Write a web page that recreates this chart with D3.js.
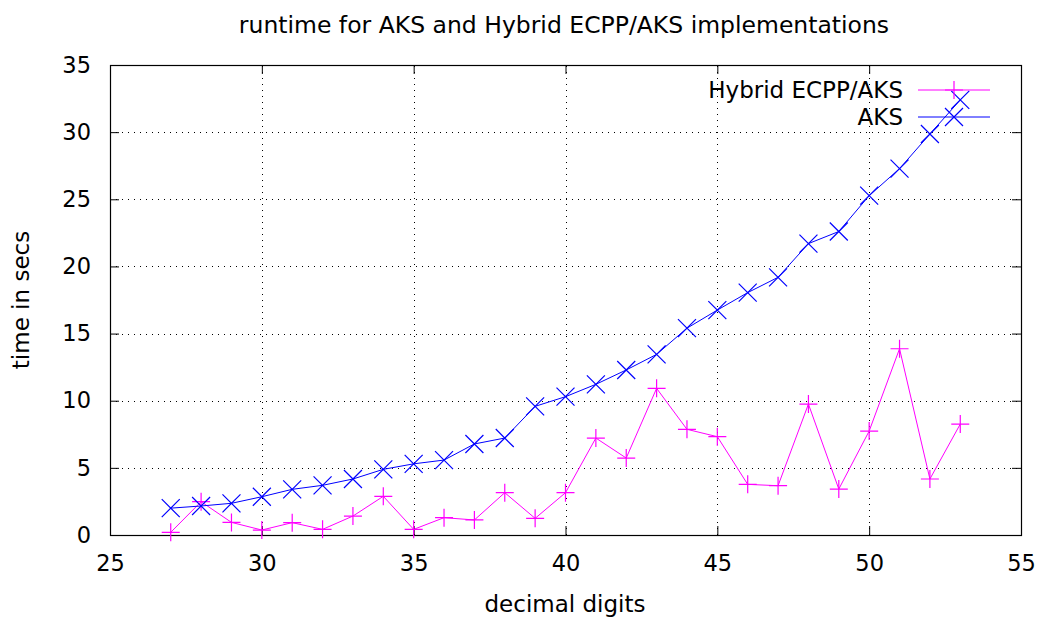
<!DOCTYPE html>
<html lang="en">
<head>
<meta charset="utf-8">
<title>runtime for AKS and Hybrid ECPP/AKS implementations</title>
<style>
  body { margin: 0; background: #fff; }
  svg text { font-family: "DejaVu Sans", sans-serif; fill: #000; }
</style>
</head>
<body>
<script src="https://cdn.jsdelivr.net/npm/d3@7"></script>
<script>
// data
var digits = [27, 28, 29, 30, 31, 32, 33, 34, 35, 36, 37, 38, 39, 40,
              41, 42, 43, 44, 45, 46, 47, 48, 49, 50, 51, 52, 53];
var hybrid = [0.2, 2.48, 0.94, 0.37, 0.92, 0.42, 1.41, 2.88, 0.42, 1.29, 1.12, 3.15, 1.24, 3.15,
              7.22, 5.73, 10.92, 7.87, 7.32, 3.77, 3.67, 9.75, 3.42, 7.74, 13.87, 4.17, 8.26];
var aks = [2.0, 2.16, 2.36, 2.85, 3.4, 3.7, 4.17, 4.89, 5.3, 5.58, 6.78, 7.22, 9.58, 10.3,
           11.22, 12.29, 13.45, 15.4, 16.75, 18.05, 19.19, 21.7, 22.6, 25.27, 27.28, 29.86, 32.4];
var xTicks = [25, 30, 35, 40, 45, 50, 55];
var yTicks = [0, 5, 10, 15, 20, 25, 30, 35];

var w = 1042, h = 619;
var plotLeft = 110, plotRight = 1021, plotTop = 65, plotBottom = 535;
var tickLen = 9, mk = 9;

var svg = d3.select("body").append("svg")
    .attr("width", w).attr("height", h);

var x = d3.scaleLinear().domain([25, 55]).range([plotLeft, plotRight]);
var y = d3.scaleLinear().domain([0, 35]).range([plotBottom, plotTop]);

// grid
var grid = svg.append("g").attr("stroke", "#000").attr("stroke-width", 1)
    .attr("stroke-dasharray", "1,5").attr("shape-rendering", "crispEdges");
grid.selectAll(".gx").data(xTicks.slice(1, -1)).enter().append("line")
    .attr("x1", d => Math.round(x(d)) + 0.5).attr("x2", d => Math.round(x(d)) + 0.5)
    .attr("y1", plotBottom).attr("y2", plotTop);
grid.selectAll(".gy").data(yTicks.slice(1, -1)).enter().append("line")
    .attr("y1", d => Math.round(y(d)) + 0.5).attr("y2", d => Math.round(y(d)) + 0.5)
    .attr("x1", plotLeft).attr("x2", plotRight);

// axes: ticks inside, mirrored
var fmt = d3.format("d");
function styleAxis(g) {
  g.select(".domain").remove();
  g.selectAll(".tick line").attr("stroke", "#000");
  g.selectAll(".tick text").style("font-size", "22.5px");
}
svg.append("g").attr("transform", `translate(0,${plotBottom})`)
  .call(d3.axisBottom(x).tickValues(xTicks).tickFormat(fmt).tickSizeInner(-tickLen).tickSizeOuter(0).tickPadding(20))
  .call(styleAxis);
svg.append("g").attr("transform", `translate(0,${plotTop})`)
  .call(d3.axisTop(x).tickValues(xTicks).tickFormat("").tickSizeInner(-tickLen).tickSizeOuter(0))
  .call(styleAxis);
svg.append("g").attr("transform", `translate(${plotLeft},0)`)
  .call(d3.axisLeft(y).tickValues(yTicks).tickFormat(fmt).tickSizeInner(-tickLen).tickSizeOuter(0).tickPadding(19))
  .call(styleAxis);
svg.append("g").attr("transform", `translate(${plotRight},0)`)
  .call(d3.axisRight(y).tickValues(yTicks).tickFormat("").tickSizeInner(-tickLen).tickSizeOuter(0))
  .call(styleAxis);

// frame
svg.append("rect").attr("x", plotLeft + 0.5).attr("y", plotTop + 0.5)
  .attr("width", plotRight - plotLeft).attr("height", plotBottom - plotTop)
  .attr("fill", "none").attr("stroke", "#000").attr("stroke-width", 1.2);

// series
var series = [
  { name: "Hybrid ECPP/AKS", values: hybrid, color: "#ff00ff", marker: "plus" },
  { name: "AKS", values: aks, color: "#0000ff", marker: "cross" }
];

function markerPath(type, s) {
  if (type === "plus") return `M${-s},0H${s}M0,${-s}V${s}`;
  return `M${-s},${-s}L${s},${s}M${-s},${s}L${s},${-s}`;
}

var line = d3.line().x(d => x(d[0])).y(d => y(d[1]));

series.forEach(function(s) {
  var pts = digits.map((d, i) => [d, s.values[i]]);
  var g = svg.append("g");
  g.append("path").datum(pts).attr("d", line)
    .attr("fill", "none").attr("stroke", s.color).attr("stroke-width", 1);
  g.selectAll(".m").data(pts).enter().append("path")
    .attr("transform", d => `translate(${x(d[0])},${y(d[1])})`)
    .attr("d", markerPath(s.marker, mk))
    .attr("fill", "none").attr("stroke", s.color).attr("stroke-width", 1.2);
});

// legend
var leg = svg.append("g");
series.forEach(function(s, i) {
  var ly = 90 + i * 27;
  leg.append("text").attr("x", 903).attr("y", ly).attr("dy", "0.35em")
    .attr("text-anchor", "end").style("font-size", "23px").text(s.name);
  leg.append("line").attr("x1", 918).attr("x2", 990).attr("y1", ly).attr("y2", ly)
    .attr("stroke", s.color).attr("stroke-width", 1);
  leg.append("path").attr("transform", `translate(954,${ly})`)
    .attr("d", markerPath(s.marker, mk))
    .attr("fill", "none").attr("stroke", s.color).attr("stroke-width", 1.2);
});

// titles
svg.append("text").attr("x", 564).attr("y", 33).attr("text-anchor", "middle")
  .style("font-size", "23.5px").text("runtime for AKS and Hybrid ECPP/AKS implementations");
svg.append("text").attr("x", 565).attr("y", 612).attr("text-anchor", "middle")
  .style("font-size", "23px").text("decimal digits");
svg.append("text").attr("transform", "translate(29,300) rotate(-90)")
  .attr("text-anchor", "middle").style("font-size", "23px").text("time in secs");
</script>
</body>
</html>
